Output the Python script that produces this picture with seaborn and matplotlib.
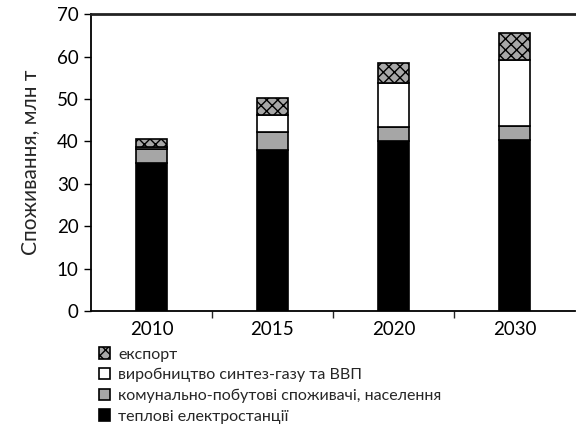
import matplotlib
matplotlib.use("Agg")
import matplotlib.pyplot as plt
import seaborn as sns
import pandas as pd
from matplotlib.patches import Patch

years = ["2010", "2015", "2020", "2030"]
thermal = [35.0, 37.9, 40.0, 40.3]
communal = [3.3, 4.4, 3.4, 3.3]
syngas = [0.4, 3.8, 10.3, 15.6]
export = [1.8, 4.2, 4.9, 6.3]

labels = ["теплові електростанції",
          "комунально-побутові споживачі, населення",
          "виробництво синтез-газу та ВВП",
          "експорт"]
ylabel = "Споживання, млн т"

sns.set_theme(style="white")
plt.rcParams["font.family"] = ["Lato", "DejaVu Sans"]

fig = plt.figure(figsize=(5.76, 4.30), dpi=100)
ax = fig.add_axes([0.158, 0.277, 0.84, 0.69])

layers = [thermal, communal, syngas, export]
faces = ["#000000", "#a6a6a6", "#ffffff", "#a8a8a8"]
hatches = [None, None, None, "xxx"]
bottom = [0.0] * len(years)
for vals, fc, h in zip(layers, faces, hatches):
    df = pd.DataFrame({"year": years, "value": vals})
    sns.barplot(data=df, x="year", y="value", ax=ax, color=fc, width=0.26,
                bottom=bottom, edgecolor="black", linewidth=1.2, hatch=h,
                saturation=1, errorbar=None)
    bottom = [b + v for b, v in zip(bottom, vals)]

ax.set_xlim(-0.5, 3.5)
ax.set_ylim(0, 70)
ax.set_yticks(range(0, 71, 10))
ax.set_xlabel("")
ax.set_ylabel(ylabel, fontsize=15, labelpad=12)
ax.tick_params(axis="y", labelsize=13.5, length=5, width=1, direction="out", left=True, colors="black", pad=4)
ax.tick_params(axis="x", labelsize=13.5, length=0, pad=7, colors="black")
ax.set_xticks([0.5, 1.5, 2.5], minor=True)
ax.tick_params(axis="x", which="minor", length=5, width=1, direction="out", bottom=True)
for s in ["left", "bottom", "top"]:
    ax.spines[s].set_visible(True)
    ax.spines[s].set_color("black")
    ax.spines[s].set_linewidth(1.3)
ax.spines["right"].set_visible(False)
ax.spines["top"].set_color("#222222")
ax.spines["top"].set_linewidth(2)

handles = [Patch(facecolor=faces[i], edgecolor="black", linewidth=1.2, hatch=hatches[i]) for i in range(4)]
order = [3, 2, 1, 0]
fig.legend([handles[i] for i in order], [labels[i] for i in order],
           loc="upper left", bbox_to_anchor=(0.172, 0.192), frameon=False,
           fontsize=11.5, handlelength=0.7, handleheight=0.7, handletextpad=0.5,
           labelspacing=0.4, borderaxespad=0, borderpad=0)

fig.savefig("out.png", dpi=100)
